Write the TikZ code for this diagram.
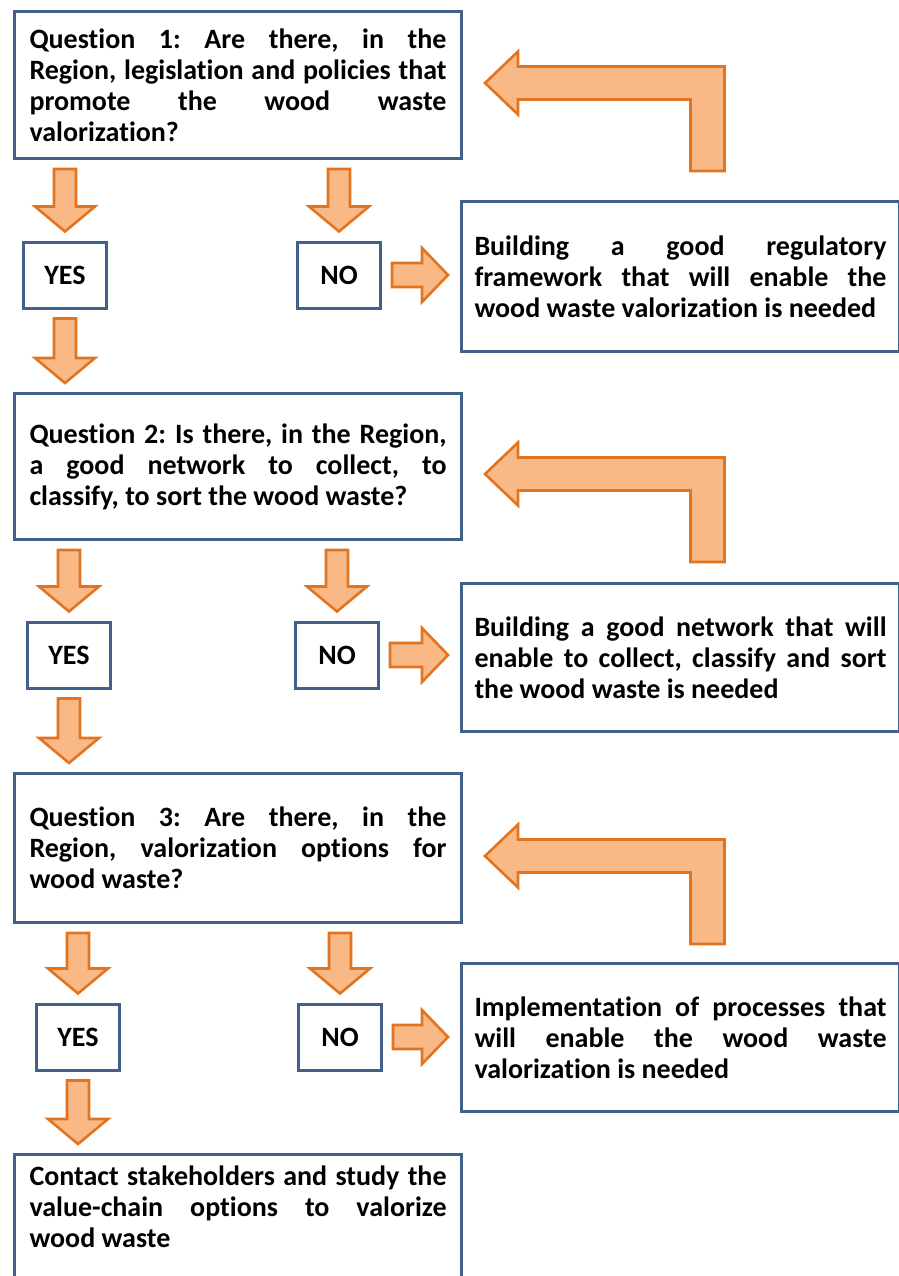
\documentclass[tikz,border=0pt]{standalone}
\usepackage{fontspec}
\setmainfont{Carlito}[Ligatures=NoCommon]
\usetikzlibrary{calc}

\tolerance=10000
\hbadness=10000
\frenchspacing

\definecolor{boxblue}{HTML}{41608A}
\definecolor{arrline}{HTML}{E3741F}
\definecolor{arrfill}{HTML}{F9B987}

\tikzset{
  every node/.style={font=\fontsize{14pt}{15.5pt}\selectfont\bfseries},
  qbox/.style={draw=boxblue, line width=1.5pt, fill=white, anchor=north west,
    text width=208.5pt, inner xsep=7.5pt, minimum width=223.5pt, align=justify},
  abox/.style={qbox, text width=206pt, inner xsep=6.5pt, minimum width=219pt},
  yn/.style={draw=boxblue, line width=1.5pt, minimum width=41.5pt,
    minimum height=33pt, inner sep=0pt},
  fat/.style={draw=arrline, fill=arrfill, line width=1.3pt, line join=miter},
}

% block arrow down: from #1 to #2, at the x of #3
\newcommand{\arrdown}[3]{%
  \draw[fat] ($(#1.south -| #3)+(-11,9)$) -- ($(#1.south -| #3)+(11,9)$)
    -- ($(#2.north -| #3)+(11,-34)$) -- ($(#2.north -| #3)+(30,-34)$)
    -- ($(#2.north -| #3)+(0,-9)$) -- ($(#2.north -| #3)+(-30,-34)$)
    -- ($(#2.north -| #3)+(-11,-34)$) -- cycle;}

% block arrow right: from #1 to #2
\newcommand{\arrright}[2]{%
  \draw[fat] ($(#1.east)+(10,-12)$) -- ($(#2.west |- #1.east)+(-38,-12)$)
    -- ($(#2.west |- #1.east)+(-38,-27)$) -- ($(#2.west |- #1.east)+(-12,0)$)
    -- ($(#2.west |- #1.east)+(-38,27)$) -- ($(#2.west |- #1.east)+(-38,12)$)
    -- ($(#1.east)+(10,12)$) -- cycle;}

% bent block arrow back: from #1 up and left to #2, tip shifted by #3
\newcommand{\arrback}[3]{%
  \coordinate (bk) at ($(#2.east)+(22,#3)$);
  \draw[fat] (bk) -- ++(33,-31.5) -- ++(0,15)
    -- ($(bk -| #1.north)+(44,-16.5)$) -- ($(bk -| #1.north)+(44,88)$)
    -- ($(bk -| #1.north)+(10,88)$) -- ($(bk -| #1.north)+(10,16.5)$)
    -- ($(bk)+(33,16.5)$) -- ++(0,15) -- cycle;}

\begin{document}
\begin{tikzpicture}[x=0.5pt,y=-0.5pt]
  \useasboundingbox (0,0) rectangle (899,1276);
  \clip (0,0) rectangle (899,1276);

  % question 1
  \node[qbox, minimum height=73.5pt] (q1) at (13,10)
    {Question 1: Are there, in the\linebreak Region, legislation and policies that\linebreak promote the wood waste\linebreak valorization?};
  \node[yn] (yes1) at (65,275) {YES};
  \node[yn] (no1) at (339,275) {NO};
  \node[abox, minimum height=75pt] (a1) at (460,200)
    {Building a good regulatory\linebreak framework that will enable the\linebreak wood waste valorization is needed};

  % question 2
  \node[qbox, minimum height=73pt] (q2) at (13,392)
    {Question 2: Is there, in the Region,\linebreak a good network to collect, to\linebreak classify, to sort the wood waste?};
  \node[yn] (yes2) at (69,655) {YES};
  \node[yn] (no2) at (337,655) {NO};
  \node[abox, minimum height=74pt] (a2) at (460,582)
    {Building a good network that will\linebreak enable to collect, classify and sort\linebreak the wood waste is needed};

  % question 3
  \node[qbox, minimum height=74.5pt] (q3) at (13,772)
    {Question 3: Are there, in the\linebreak Region, valorization options for\linebreak wood waste?};
  \node[yn] (yes3) at (78,1037) {YES};
  \node[yn] (no3) at (340,1037) {NO};
  \node[abox, minimum height=74pt] (a3) at (460,962)
    {Implementation of processes that\linebreak will enable the wood waste\linebreak valorization is needed};

  % last step
  \node[qbox, inner ysep=5.5pt] (fin) at (13,1153)
    {Contact stakeholders and study the\linebreak value-chain options to valorize\linebreak wood waste\rule[-30pt]{0pt}{0pt}};

  % arrows
  \arrdown{q1}{yes1}{yes1}
  \arrdown{q1}{no1}{no1}
  \arrdown{yes1}{q2}{yes1}
  \arrright{no1}{a1}
  \arrback{a1}{q1}{-2}

  \arrdown{q2}{yes2}{yes2}
  \arrdown{q2}{no2}{no2}
  \arrdown{yes2}{q3}{yes2}
  \arrright{no2}{a2}
  \arrback{a2}{q2}{7.5}

  \arrdown{q3}{yes3}{yes3}
  \arrdown{q3}{no3}{no3}
  \arrdown{yes3}{fin}{yes3}
  \arrright{no3}{a3}
  \arrback{a3}{q3}{8}
\end{tikzpicture}
\end{document}
